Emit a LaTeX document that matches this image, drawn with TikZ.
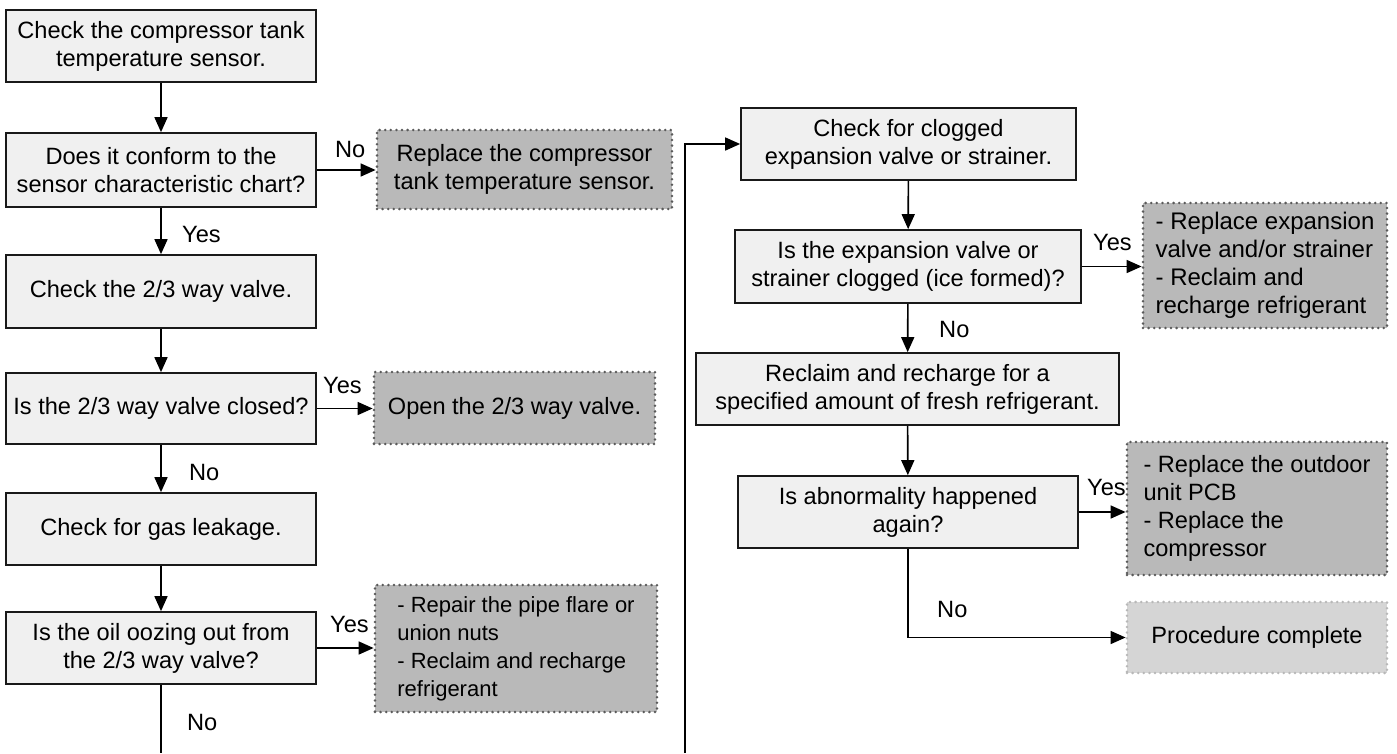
\documentclass[tikz,border=0pt]{standalone}
\usepackage{fontspec}
\setmainfont{Liberation Sans}
\usetikzlibrary{arrows.meta}
\definecolor{boxfill}{HTML}{F0F0F0}
\definecolor{actfill}{HTML}{B9B9B9}
\definecolor{actdraw}{HTML}{5A5A5A}
\definecolor{endfill}{HTML}{D5D5D5}
\definecolor{enddraw}{HTML}{B8B8B8}
\newcommand{\fsz}{\fontsize{23.6}{28}\selectfont}
\newcommand{\fsm}{\fontsize{22}{28}\selectfont}
\newcommand{\fsl}{\fontsize{24}{28}\selectfont}
\begin{document}
\begin{tikzpicture}[x=1pt,y=-1pt,
  stepbox/.style={draw=black!90, line width=1.7pt, fill=boxfill, align=center, inner sep=0pt, font=\fsz, text=black},
  actbox/.style={draw=actdraw, line width=2.8pt, dash pattern=on 0pt off 5.6pt, line cap=round, fill=actfill, align=left, inner sep=0pt, font=\fsz, text=black},
  endbox/.style={actbox, draw=enddraw, fill=endfill, align=center},
  lbl/.style={font=\fsz, inner sep=0pt, anchor=base west},
  arr/.style={-{Triangle[length=15pt,width=13pt]}, line width=1.6pt},
  conn/.style={line width=1.6pt}]
\useasboundingbox (0,0) rectangle (1397,753);
% left column
\node[stepbox, minimum width=310pt, minimum height=72pt] (b1) at (161,46) {Check the compressor tank\\temperature sensor.};
\node[stepbox, minimum width=310pt, minimum height=74pt] (b2) at (161,170) {Does it conform to the\\sensor characteristic chart?};
\node[actbox, align=center, minimum width=295pt, minimum height=79pt] (r1) at (524.5,169.5) {Replace the compressor\\tank temperature sensor.};
\node[stepbox, minimum width=310pt, minimum height=73pt] (b3) at (161,291.5) {Check the 2/3 way valve.};
\node[stepbox, minimum width=310pt, minimum height=71pt] (b4) at (161,408.5) {Is the 2/3 way valve closed?};
\node[actbox, align=center, minimum width=281pt, minimum height=72pt] (r2) at (514.5,408) {Open the 2/3 way valve.};
\node[stepbox, minimum width=310pt, minimum height=72pt] (b5) at (161,529) {Check for gas leakage.};
\node[stepbox, minimum width=310pt, minimum height=72pt] (b6) at (161,648) {Is the oil oozing out from\\the 2/3 way valve?};
\node[actbox, font=\fsm, minimum width=282pt, minimum height=127pt] (r3) at (516,648.5) {- Repair the pipe flare or\\union nuts\\- Reclaim and recharge\\refrigerant};
\coordinate (lb) at (161,753);
% right column
\node[stepbox, minimum width=335pt, minimum height=72pt] (c1) at (908.5,144) {Check for clogged\\expansion valve or strainer.};
\node[stepbox, minimum width=346pt, minimum height=73pt] (c2) at (908,266.5) {Is the expansion valve or\\strainer clogged (ice formed)?};
\node[actbox, font=\fsl, minimum width=244pt, minimum height=125pt] (s1) at (1265,265.5) {- Replace expansion\\valve and/or strainer\\- Reclaim and\\recharge refrigerant};
\node[stepbox, minimum width=423pt, minimum height=72pt] (c3) at (907.5,389) {Reclaim and recharge for a\\specified amount of fresh refrigerant.};
\node[stepbox, minimum width=340pt, minimum height=72pt] (c4) at (908,512) {Is abnormality happened\\again?};
\node[actbox, minimum width=260pt, minimum height=133pt] (s2) at (1257,508.5) {- Replace the outdoor\\unit PCB\\- Replace the\\compressor};
\node[endbox, minimum width=260pt, minimum height=71pt] (s3) at (1257,637.5) {Procedure complete};
\coordinate (rb) at (685,753);
% connectors
\draw[arr] (b1) -- (b2);
\draw[arr] (b2.east) -- (b2.east -| r1.west);
\node[lbl] (n1) at (335,157) {No};
\draw[arr] (b2) -- (b3);
\node[lbl] (y1) at (182,242) {Yes};
\draw[arr] (b3) -- (b4);
\draw[arr] (b4.east) -- (b4.east -| r2.west);
\node[lbl] (y2) at (323,393) {Yes};
\draw[arr] (b4) -- (b5);
\node[lbl] (n2) at (189,480) {No};
\draw[arr] (b5) -- (b6);
\draw[arr] (b6.east) -- (b6.east -| r3.west);
\node[lbl] (y3) at (330,632) {Yes};
\draw[conn] (b6.south) -- (lb);
\node[lbl] (n3) at (187,730) {No};
\draw[arr] (rb) |- (c1.west);
\draw[arr] (c1) -- (c2);
\draw[arr] (c2.east) -- (c2.east -| s1.west);
\node[lbl] (y4) at (1093,250) {Yes};
\draw[arr] (c2) -- (c3);
\node[lbl] (n4) at (939,337) {No};
\draw[arr] (c3) -- (c4);
\draw[arr] (c4.east) -- (c4.east -| s2.west);
\node[lbl] (y5) at (1087,495) {Yes};
\draw[arr] (c4.south) |- (s3.west);
\node[lbl] (n5) at (937,617) {No};
\end{tikzpicture}
\end{document}
